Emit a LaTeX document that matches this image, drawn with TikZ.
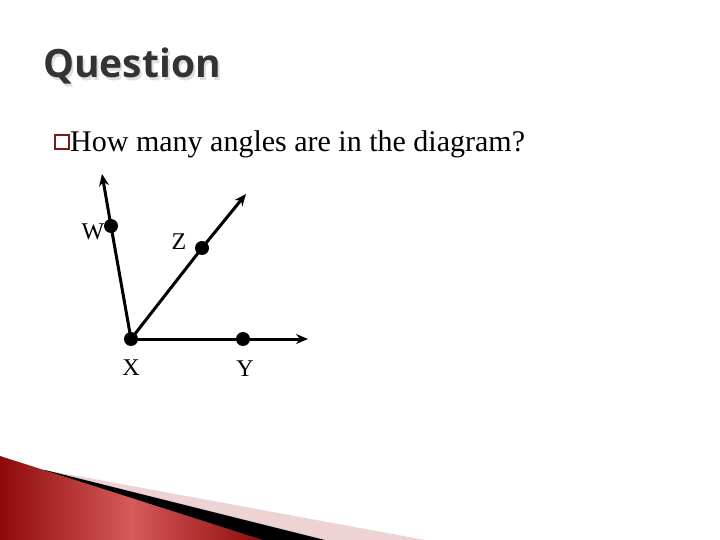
\documentclass[tikz,border=0pt]{standalone}
\usepackage{fontspec}
\setmainfont{Liberation Serif}
\newfontfamily\titlefont{Open Sans Bold}
\usetikzlibrary{arrows.meta}
\definecolor{titlegray}{HTML}{333333}
\definecolor{bulletred}{HTML}{7A1A1A}
\definecolor{pinkband}{HTML}{EDD3D3}
\definecolor{reddark}{HTML}{8E0A0A}
\definecolor{redlight}{HTML}{D65A5A}
\begin{document}
\begin{tikzpicture}[x=1pt,y=-1pt,
  ray/.style={line width=3pt,-{Stealth[length=12pt,width=10pt]}},
  seg/.style={line width=3pt},
  pt/.style={circle,fill=black,inner sep=0pt,minimum size=14pt},
  lbl/.style={font=\fontsize{24}{24}\selectfont,inner sep=0pt}]
\useasboundingbox (0,0) rectangle (720,540);
\fill[white] (0,0) rectangle (720,540);
% bottom decoration
\fill[pinkband] (45,470) -- (425,540) -- (0,540) -- cycle;
\fill[black] (45,470) -- (325,540) -- (0,540) -- cycle;
\shade[left color=reddark,right color=reddark,middle color=redlight] (0,456) -- (263,540) -- (0,540) -- cycle;
% title
\node[anchor=base west,inner sep=0pt,text=titlegray] (title) at (43,78)
  {\titlefont\fontsize{39}{39}\selectfont\rlap{\hspace{2pt}\raisebox{-2.5pt}{\color{black!13}Question}}Question};
% bullet
\node[draw=bulletred,line width=1.5pt,minimum size=14pt,inner sep=0pt] (bullet) at (62,142) {};
\node[anchor=base west,inner sep=0pt,font=\fontsize{30}{30}\selectfont] (question) at (70,152) {How many angles are in the diagram?};
% points
\node[pt] (X) at (131,339) {};
\node[pt] (W) at (111,226) {};
\node[pt] (Z) at (202,248) {};
\node[pt] (Y) at (243,339) {};
\coordinate (Wend) at (102,174);
\coordinate (Zend) at (246,194);
\coordinate (Yend) at (308,339);
\draw[seg] (X.center) -- (W.center);
\draw[ray] (W.center) -- (Wend);
\draw[seg] (X.center) -- (Z.center);
\draw[ray] (Z.center) -- (Zend);
\draw[seg] (X.center) -- (Y.center);
\draw[ray] (Y.center) -- (Yend);
% labels
\node[lbl] (lW) at (93,232) {W};
\node[lbl] (lZ) at (179,242) {Z};
\node[lbl] (lX) at (131,368) {X};
\node[lbl] (lY) at (245,369) {Y};
\end{tikzpicture}
\end{document}
